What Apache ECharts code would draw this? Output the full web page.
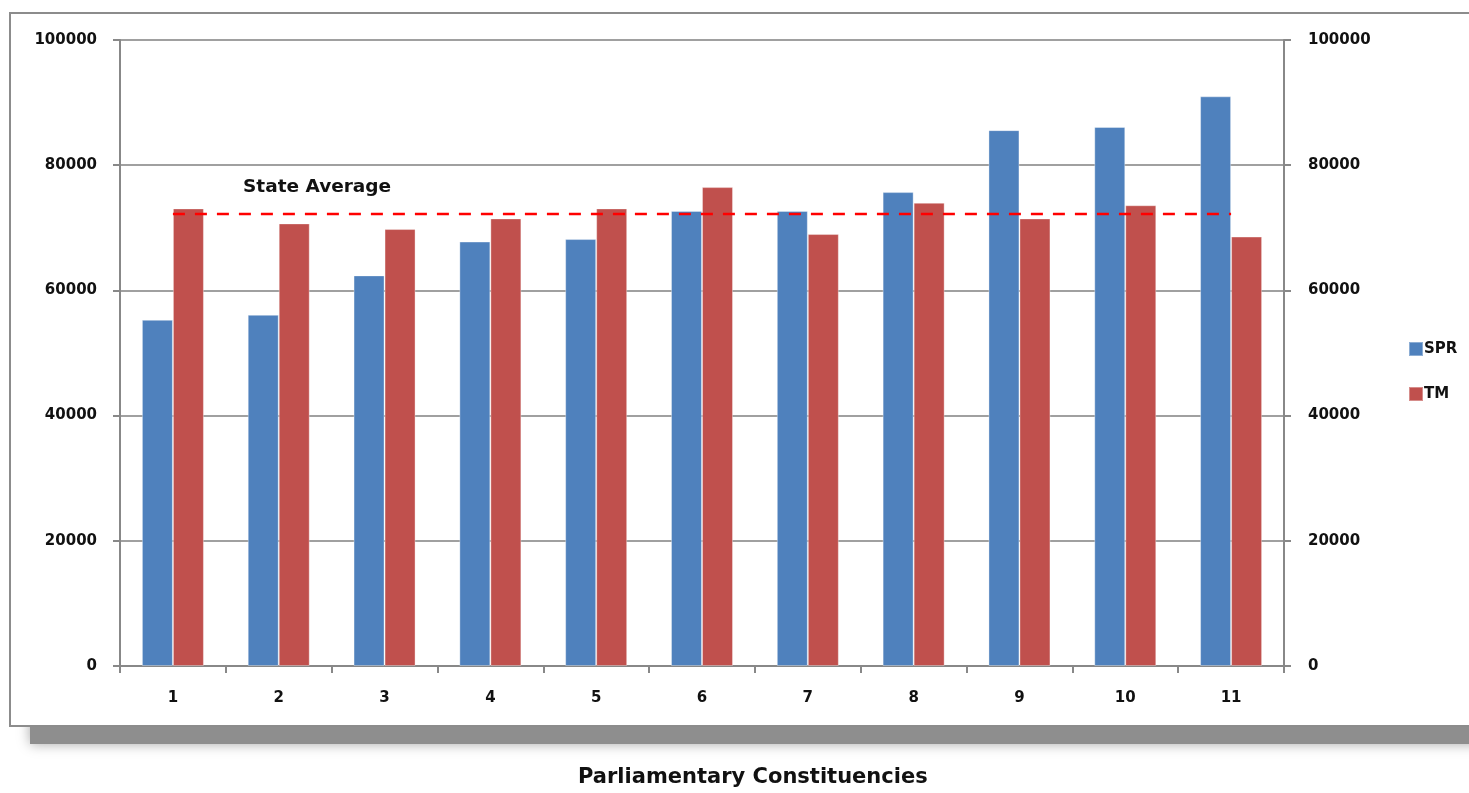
<!DOCTYPE html>
<html>
<head>
<meta charset="utf-8">
<script src="https://cdn.jsdelivr.net/npm/echarts@6/dist/echarts.min.js"></script>
<style>
html,body{margin:0;padding:0;background:#fff;}
#c{width:1469px;height:793px;}
</style>
</head>
<body>
<div id="c"></div>
<script>
const categories = ['1','2','3','4','5','6','7','8','9','10','11'];
const spr = [55300, 56100, 62400, 67800, 68200, 72700, 72700, 75700, 85600, 86100, 91000];
const tm  = [73100, 70700, 69800, 71500, 73100, 76500, 69000, 74000, 71500, 73600, 68600];
const stateAverage = 72200;
const avgLine = categories.map(() => stateAverage);
const yTicks = { min: 0, max: 100000, interval: 20000 };

const chart = echarts.init(document.getElementById('c'));
const FONT = '"DejaVu Sans"';
const labelFont = { fontFamily: FONT, fontWeight: 'bold', fontSize: 15, color: '#111' };
const plain = v => String(v);

chart.setOption({
  animation: false,
  backgroundColor: '#fff',
  graphic: [
    { type: 'rect', z: -10, shape: { x: 30, y: 30, width: 1460, height: 714 },
      style: { fill: '#8e8e8e', shadowBlur: 12, shadowColor: 'rgba(0,0,0,0.35)' }, silent: true },
    { type: 'rect', z: -9, shape: { x: 10, y: 13, width: 1480, height: 713 },
      style: { fill: '#fff', stroke: '#8c8c8c', lineWidth: 2 }, silent: true },
    { type: 'text', left: 243, top: 178, z: 10,
      style: { text: 'State Average', fontFamily: FONT, fontSize: 18.5, fontWeight: 'bold', fill: '#111' } },
    { type: 'text', left: 578, top: 767, z: 10,
      style: { text: 'Parliamentary Constituencies', fontFamily: FONT, fontSize: 21, fontWeight: 'bold', fill: '#111' } }
  ],
  legend: {
    orient: 'vertical', left: 1408, top: 341, itemGap: 29, padding: 0,
    itemWidth: 14, itemHeight: 14, icon: 'rect',
    textStyle: { fontFamily: FONT, fontWeight: 'bold', fontSize: 15, color: '#111', padding: [0,0,0,-4] },
    data: ['SPR', 'TM']
  },
  grid: { left: 120, right: 185, top: 40, bottom: 127, containLabel: false },
  xAxis: {
    type: 'category', data: categories, boundaryGap: true,
    axisLine: { lineStyle: { color: '#888', width: 2 } },
    axisTick: { show: true, length: 7, alignWithLabel: false, lineStyle: { color: '#888', width: 2 } },
    axisLabel: Object.assign({ margin: 25 }, labelFont)
  },
  yAxis: [
    { type: 'value', min: yTicks.min, max: yTicks.max, interval: yTicks.interval, position: 'left',
      axisLine: { show: true, lineStyle: { color: '#888', width: 2 } },
      axisTick: { show: true, length: 7, lineStyle: { color: '#888', width: 2 } },
      splitLine: { show: true, lineStyle: { color: '#a0a0a0', width: 2 } },
      axisLabel: Object.assign({ margin: 23 }, labelFont, { formatter: plain }) },
    { type: 'value', min: yTicks.min, max: yTicks.max, interval: yTicks.interval, position: 'right',
      axisLine: { show: true, lineStyle: { color: '#888', width: 2 } },
      axisTick: { show: true, length: 7, lineStyle: { color: '#888', width: 2 } },
      splitLine: { show: false },
      axisLabel: Object.assign({ margin: 24 }, labelFont, { formatter: plain }) }
  ],
  series: [
    { name: 'SPR', type: 'bar', data: spr, barWidth: 31, barGap: '0%',
      itemStyle: { color: '#4F81BD', borderColor: 'rgba(255,255,255,0.35)', borderWidth: 1 } },
    { name: 'TM', type: 'bar', data: tm, barWidth: 31, barGap: '0%',
      itemStyle: { color: '#C0504D', borderColor: 'rgba(255,255,255,0.35)', borderWidth: 1 } },
    { name: 'State Average', type: 'line', data: avgLine, symbol: 'none', z: 5,
      lineStyle: { color: '#FF0000', width: 2.5, type: [12, 10] } }
  ]
});
</script>
</body>
</html>
